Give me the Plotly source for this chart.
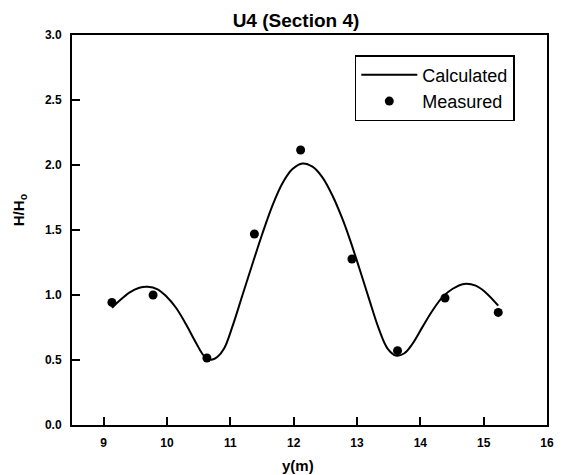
import plotly.graph_objects as go

# Measured data
meas_x = [9.13, 9.78, 10.63, 11.38, 12.11, 12.92, 13.64, 14.39, 15.23]
meas_y = [0.943, 1.00, 0.515, 1.469, 2.115, 1.277, 0.572, 0.977, 0.866]

# Calculated curve (traced)
calc_x = [9.132, 9.248, 9.405, 9.563, 9.694, 9.852, 9.984, 10.142, 10.30, 10.457,
          10.588, 10.694, 10.798, 10.904, 11.035, 11.192, 11.35, 11.508, 11.666, 11.823,
          11.981, 12.139, 12.297, 12.454, 12.612, 12.77, 12.875, 13.033, 13.19, 13.348,
          13.48, 13.612, 13.743, 13.874, 14.03, 14.19, 14.347, 14.505, 14.69, 14.874,
          15.03, 15.23]
calc_y = [0.901, 0.955, 1.018, 1.056, 1.064, 1.044, 0.992, 0.902, 0.775, 0.633,
          0.53, 0.502, 0.525, 0.59, 0.76, 1.00, 1.24, 1.475, 1.69, 1.86,
          1.969, 2.012, 1.987, 1.905, 1.765, 1.585, 1.445, 1.212, 0.97, 0.735,
          0.59, 0.535, 0.55, 0.623, 0.751, 0.879, 0.982, 1.046, 1.085, 1.072,
          1.02, 0.918]

x_ticks = [9, 10, 11, 12, 13, 14, 15, 16]
y_ticks = [0.0, 0.5, 1.0, 1.5, 2.0, 2.5, 3.0]

FONT = "Liberation Sans, Arial, sans-serif"

fig = go.Figure()
fig.add_trace(go.Scatter(x=calc_x, y=calc_y, mode="lines", name="Calculated",
                         line=dict(color="black", width=2, shape="spline", smoothing=1.0)))
fig.add_trace(go.Scatter(x=meas_x, y=meas_y, mode="markers", name="Measured",
                         marker=dict(color="black", size=9)))

fig.update_layout(
    width=566, height=475,
    margin=dict(l=72, r=17, t=35, b=50),
    paper_bgcolor="white", plot_bgcolor="white",
    title=dict(text="U4 (Section 4)", x=296 / 566, xanchor="center", y=1 - 20 / 475,
               yanchor="middle", font=dict(family=FONT, size=19, color="black", weight="bold")),
    showlegend=True,
    legend=dict(x=(356 - 72) / 477, y=(425 - 55) / 390, xanchor="left", yanchor="top",
                bordercolor="black", borderwidth=1.5, bgcolor="white",
                font=dict(family=FONT, size=18, color="black"),
                itemwidth=56, tracegroupgap=0),
    xaxis=dict(range=[8.5, 16], tickvals=x_ticks, ticktext=[str(v) for v in x_ticks],
               ticks="inside", ticklen=8, tickwidth=1.5, tickcolor="black",
               showline=True, linecolor="black", linewidth=2, mirror=True,
               showgrid=False, zeroline=False, ticklabelstandoff=6,
               tickfont=dict(family=FONT, size=12, color="black", weight="bold")),
    yaxis=dict(range=[0, 3], tickvals=y_ticks, ticktext=["%.1f" % v for v in y_ticks],
               ticks="inside", ticklen=8, tickwidth=1.5, tickcolor="black",
               showline=True, linecolor="black", linewidth=2, mirror=True,
               showgrid=False, zeroline=False, ticklabelstandoff=6,
               tickfont=dict(family=FONT, size=12, color="black", weight="bold")),
    annotations=[
        dict(text="y(m)", xref="paper", yref="paper", x=(299 - 72) / 477, y=-(465 - 425) / 390,
             xanchor="center", yanchor="middle", showarrow=False,
             font=dict(family=FONT, size=15, color="black", weight="bold")),
        dict(text="H/H<sub>o</sub>", xref="paper", yref="paper", x=(20 - 72) / 477,
             y=(425 - 210) / 390,
             xanchor="center", yanchor="middle", showarrow=False, textangle=-90,
             font=dict(family=FONT, size=15, color="black", weight="bold")),
    ],
)

fig.write_html("out.html")
